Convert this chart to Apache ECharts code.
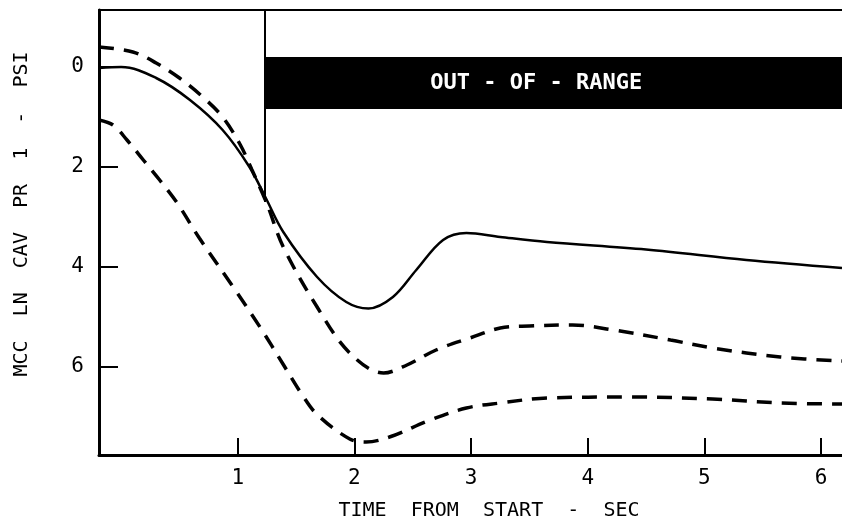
<!DOCTYPE html>
<html>
<head>
<meta charset="utf-8">
<script src="https://cdn.jsdelivr.net/npm/echarts@6/dist/echarts.min.js"></script>
<style>
html,body{margin:0;padding:0;background:#fff}
#main{width:842px;height:527px}
</style>
</head>
<body>
<div id="main"></div>
<script>
// pressure curves (time in sec, pressure in psi)
var solidT = [-0.19, 0.0, 0.3, 0.59, 0.87, 1.1, 1.24, 1.39, 1.68, 1.93, 2.12, 2.33, 2.53, 2.76, 2.96, 3.25, 3.65, 4.5, 5.36, 6.18];
var solidP = [0.02, 0.0, 0.22, 0.66, 1.26, 2.0, 2.62, 3.3, 4.2, 4.7, 4.83, 4.6, 4.06, 3.46, 3.32, 3.4, 3.5, 3.65, 3.86, 4.02];

var upperT = [-0.19, 0.1, 0.3, 0.5, 0.7, 0.87, 1.02, 1.12, 1.25, 1.39, 1.68, 1.96, 2.25, 2.45, 2.7, 2.99, 3.25, 3.5, 3.87, 4.22, 4.71, 5.07, 5.65, 6.18];
var upperP = [-0.4, -0.3, -0.08, 0.22, 0.6, 1.0, 1.55, 2.05, 2.74, 3.6, 4.8, 5.72, 6.12, 5.96, 5.66, 5.42, 5.22, 5.18, 5.16, 5.26, 5.46, 5.62, 5.8, 5.88];

var lowerT = [-0.19, -0.07, 0.05, 0.19, 0.33, 0.48, 0.67, 0.96, 1.19, 1.39, 1.55, 1.68, 1.96, 2.1, 2.3, 2.65, 2.96, 3.25, 3.65, 4.36, 5.07, 5.65, 6.18];
var lowerP = [1.06, 1.16, 1.46, 1.86, 2.26, 2.72, 3.42, 4.4, 5.2, 5.95, 6.55, 6.95, 7.44, 7.5, 7.4, 7.06, 6.82, 6.72, 6.62, 6.6, 6.64, 6.72, 6.74];

var xTicks = [1, 2, 3, 4, 5, 6];
var yTicks = [0, 2, 4, 6];

// out-of-range band
var oorStart = 1.23;
var oorBand = [-0.2, 0.84];
var oorLineEnd = 2.7;

function pairs(t, p) {
    var out = [];
    for (var i = 0; i < t.length; i++) out.push([t[i], p[i]]);
    return out;
}

var font = 'DejaVu Sans Mono';
var chart = echarts.init(document.getElementById('main'));

chart.setOption({
    animation: false,
    backgroundColor: '#fff',
    grid: {left: 99, right: 0, top: 10, bottom: 72, containLabel: false},
    xAxis: [{
        type: 'value',
        min: -0.19,
        max: 6.18,
        name: 'TIME  FROM  START  -  SEC',
        nameLocation: 'middle',
        nameGap: 46,
        nameTextStyle: {fontFamily: font, fontSize: 20, color: '#000', padding: [0, 0, 0, 37]},
        axisLine: {show: true, onZero: false, lineStyle: {color: '#000', width: 3}},
        axisTick: {show: true, inside: true, length: 17, customValues: xTicks, lineStyle: {color: '#000', width: 2}},
        axisLabel: {customValues: xTicks, margin: 13, fontFamily: font, fontSize: 21, color: '#000'},
        splitLine: {show: false}
    }, {
        type: 'value',
        position: 'top',
        min: -0.19,
        max: 6.18,
        axisLine: {show: true, onZero: false, lineStyle: {color: '#000', width: 2}},
        axisTick: {show: false},
        axisLabel: {show: false},
        splitLine: {show: false}
    }],
    yAxis: {
        type: 'value',
        inverse: true,
        min: -1.14,
        max: 7.76,
        name: 'MCC  LN  CAV  PR  1  -  PSI',
        nameLocation: 'middle',
        nameRotate: 90,
        nameGap: 67,
        nameTextStyle: {fontFamily: font, fontSize: 20, color: '#000', padding: [0, 0, 0, 37]},
        axisLine: {show: true, onZero: false, lineStyle: {color: '#000', width: 3}},
        axisTick: {show: true, inside: true, length: 19, customValues: yTicks, lineStyle: {color: '#000', width: 2}},
        axisLabel: {customValues: yTicks, margin: 15, fontFamily: font, fontSize: 21, color: '#000'},
        splitLine: {show: false}
    },
    series: [{
        type: 'line',
        data: pairs(solidT, solidP),
        smooth: 0.35,
        symbol: 'none',
        lineStyle: {color: '#000', width: 2.5},
        markArea: {
            silent: true,
            itemStyle: {color: '#000'},
            label: {
                show: true,
                position: 'inside',
                offset: [-17, 0],
                color: '#fff',
                fontFamily: font,
                fontSize: 22,
                fontWeight: 'bold'
            },
            data: [[{name: 'OUT - OF - RANGE', coord: [oorStart, oorBand[0]]}, {coord: [6.18, oorBand[1]]}]]
        },
        markLine: {
            silent: true,
            symbol: 'none',
            label: {show: false},
            lineStyle: {color: '#000', width: 2, type: 'solid'},
            data: [[{coord: [oorStart, -1.14]}, {coord: [oorStart, oorLineEnd]}]]
        }
    }, {
        type: 'line',
        data: pairs(upperT, upperP),
        smooth: 0.35,
        symbol: 'none',
        lineStyle: {color: '#000', width: 3.5, type: [15, 10]}
    }, {
        type: 'line',
        data: pairs(lowerT, lowerP),
        smooth: 0.35,
        symbol: 'none',
        lineStyle: {color: '#000', width: 3.5, type: [15, 10]}
    }]
});
</script>
</body>
</html>
